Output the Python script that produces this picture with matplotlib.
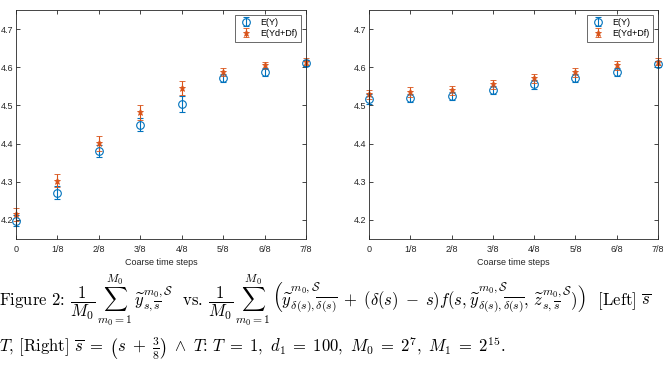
import matplotlib
matplotlib.use("Agg")
import matplotlib.pyplot as plt
import numpy as np

tick_labels = ["0", "1/8", "2/8", "3/8", "4/8", "5/8", "6/8", "7/8"]
steps = [0, 1/8, 2/8, 3/8, 4/8, 5/8, 6/8, 7/8]

left_EY = [4.198, 4.271, 4.381, 4.449, 4.504, 4.572, 4.588, 4.610]
left_EY_err = [0.015, 0.017, 0.015, 0.017, 0.020, 0.010, 0.011, 0.008]
left_EYD = [4.215, 4.302, 4.401, 4.482, 4.546, 4.588, 4.605, 4.614]
left_EYD_err = [0.017, 0.017, 0.020, 0.019, 0.019, 0.010, 0.010, 0.009]

right_EY = [4.517, 4.519, 4.525, 4.540, 4.555, 4.572, 4.588, 4.608]
right_EY_err = [0.012, 0.010, 0.010, 0.011, 0.011, 0.010, 0.010, 0.008]
right_EYD = [4.529, 4.535, 4.540, 4.555, 4.571, 4.587, 4.605, 4.614]
right_EYD_err = [0.012, 0.012, 0.012, 0.012, 0.012, 0.012, 0.011, 0.009]

yticks = [4.2, 4.3, 4.4, 4.5, 4.6, 4.7]

blue = (0.0, 0.447, 0.741)
orange = (0.85, 0.325, 0.098)
txtc = (0.15, 0.15, 0.15)

plt.rcParams['font.family'] = ['Liberation Sans', 'DejaVu Sans']
plt.rcParams['mathtext.fontset'] = 'cm'

fig = plt.figure(figsize=(6.63, 3.67), dpi=100)
H = 367.0
W = 663.0
ax1 = fig.add_axes([16/W, (H-239)/H, 290/W, 229/H])
ax2 = fig.add_axes([369/W, (H-239)/H, 289/W, 229/H])

for ax, ey, eye, eyd, eyde in [(ax1, left_EY, left_EY_err, left_EYD, left_EYD_err),
                               (ax2, right_EY, right_EY_err, right_EYD, right_EYD_err)]:
    c1 = ax.errorbar(steps, ey, yerr=eye, fmt='o', color=blue, mfc='none', ms=5.5,
                     mew=0.8, elinewidth=0.8, capsize=2.5, capthick=0.8, label='E(Y)')
    c2 = ax.errorbar(steps, eyd, yerr=eyde, fmt='*', color=orange, ms=4.5,
                     mew=0.6, elinewidth=0.8, capsize=2.5, capthick=0.8, label='E(Yd+Df)')
    for c in (c1, c2):
        for a in c.get_children():
            a.set_clip_on(False)
    ax.set_xlim(0, 7/8)
    ax.set_ylim(4.15, 4.75)
    ax.set_xticks(steps)
    ax.set_xticklabels(tick_labels)
    ax.set_yticks(yticks)
    ax.set_yticklabels([f"{v:.1f}" for v in yticks])
    ax.tick_params(direction='in', length=3, width=0.6, labelsize=6.5,
                   colors=txtc, top=True, right=True, pad=4)
    ax.tick_params(axis='y', pad=2)
    for sp in ax.spines.values():
        sp.set_linewidth(0.6)
        sp.set_color((0.15, 0.15, 0.15))
    ax.set_xlabel('Coarse time steps', fontsize=6.5, color=txtc, labelpad=3)
    leg = ax.legend(loc='upper right', fontsize=6.5, frameon=True, fancybox=False,
                    edgecolor=(0.15, 0.15, 0.15), borderpad=0.4, handlelength=1.6,
                    labelspacing=0.2, borderaxespad=0.5)
    leg.get_frame().set_linewidth(0.6)

line1 = (r"Figure 2: $\dfrac{1}{M_0}\,\sum_{m_0=1}^{M_0}\,\widetilde{y}_{s,\overline{s}}^{m_0,\mathcal{S}}$  vs. "
         r"$\dfrac{1}{M_0}\,\sum_{m_0=1}^{M_0}\,\left(\widetilde{y}^{m_0,\mathcal{S}}_{\delta(s),\overline{\delta(s)}}"
         r"\;+\;(\delta(s)\;-\;s)f(s,\widetilde{y}^{m_0,\mathcal{S}}_{\delta(s),\overline{\delta(s)}},"
         r"\,\widetilde{z}^{m_0,\mathcal{S}}_{s,\overline{s}})\right)$  [Left] $\overline{s}$")
line2 = (r"$T$, [Right] $\overline{s}\;=\;\left(s\;+\;\frac{3}{8}\right)\;\wedge\;T$: "
         r"$T\;=\;1,\ d_1\;=\;100,\ M_0\;=\;2^7,\ M_1\;=\;2^{15}.$")
fig.text(-0.002, 1 - 306/H, line1, fontsize=12, family='cmr10', va='baseline', ha='left')
fig.text(-0.002, 1 - 352/H, line2, fontsize=12, family='cmr10', va='baseline', ha='left')

fig.savefig('out.png', dpi=100)
